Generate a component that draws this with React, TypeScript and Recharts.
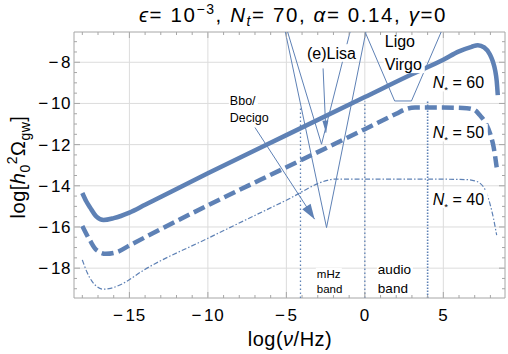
import React from 'react';
import { LineChart, Line, XAxis, YAxis, ReferenceLine, ReferenceDot, ReferenceArea } from 'recharts';

// ---------- data ----------
const xTickValues = [-18, -17, -16, -15, -14, -13, -12, -11, -10, -9, -8, -7, -6, -5, -4, -3, -2, -1, 0, 1, 2, 3, 4, 5, 6, 7, 8];
const xMajorTicks = [-15, -10, -5, 0, 5];
const yTickValues = [-19, -18.5, -18, -17.5, -17, -16.5, -16, -15.5, -15, -14.5, -14, -13.5, -13, -12.5, -12, -11.5, -11, -10.5, -10, -9.5, -9, -8.5, -8, -7.5, -7];
const yMajorTicks = [-18, -16, -14, -12, -10, -8];

const n60LogNu = [-18, -17.75, -17.5, -17.1, -16.65, -16, -15, -14, -10, -5, 0, 3, 5, 6, 6.8, 7.2, 7.6, 7.97, 8.15, 8.3, 8.4, 8.47];
const n60LogOmega = [-14.35, -14.75, -15.06, -15.5, -15.66, -15.57, -15.3, -14.92, -13.39, -11.54, -9.69, -8.58, -7.88, -7.47, -7.25, -7.17, -7.28, -7.62, -7.95, -8.38, -8.9, -9.6];

const n50LogNu = [-18, -17.5, -17.1, -16.5, -15.8, -15, -14, -10, -5, 0, 2, 2.6, 3.2, 5, 6.5, 7.0, 7.3, 7.7, 8.0, 8.2, 8.4];
const n50LogOmega = [-15.95, -16.67, -17.12, -17.3, -17.22, -16.9, -16.5, -14.95, -13.1, -11.25, -10.5, -10.28, -10.2, -10.2, -10.23, -10.32, -10.55, -10.95, -11.5, -12.1, -13.1];

const n40LogNu = [-18, -17.7, -17.4, -17.1, -16.7, -16.2, -15.5, -14.1, -10, -5, -2.4, -2.0, 0, 5, 6.5, 7.0, 7.33, 7.7, 7.96, 8.2, 8.4];
const n40LogOmega = [-17.6, -18.2, -18.62, -18.88, -19.02, -18.98, -18.78, -18.1, -16.55, -14.7, -13.74, -13.68, -13.68, -13.68, -13.7, -13.76, -13.87, -14.25, -14.84, -15.6, -16.4];

const lisaWideLogNu = [-5.1, -2.44, 0.1];
const lisaWideLogOmega = [-6.4, -16.03, -6.4];
const lisaNarrowLogNu = [-4.97, -2.76, -0.9];
const lisaNarrowLogOmega = [-6.4, -11.98, -6.4];
const ligoLogNu = [0.0, 1.9, 2.97, 4.88];
const ligoLogOmega = [-6.5, -9.88, -9.88, -6.5];
const lisaArrowLogNu = [-2.66, -2.48];
const lisaArrowLogOmega = [-8.3, -11.42];
const bboArrowLogNu = [-7.0, -3.2];
const bboArrowLogOmega = [-11.17, -15.62];

const bandEdgeLogNu = [-4.1, 0, 4];
const bandEdgeTop = [-10.2, -9.9, -9.9];
const bandEdgeBottom = -19.45;

// ---------- layout ----------
const WIDTH = 508;
const HEIGHT = 354;
const PLOT_LEFT = 74;
const PLOT_RIGHT = 505;
const PLOT_TOP = 32;
const PLOT_BOTTOM = 298;
const xDomain: [number, number] = [-18.53, 8.93];
const yDomain: [number, number] = [-19.45, -6.53];
const BLUE = '#5e81b5';
const FRAME = '#a6a6a6';
const GRID = '#dcdcdc';
const FONT = '"Liberation Sans", Arial, Helvetica, sans-serif';
const TICK_SIZE = 17;

const pts = (xs: number[], ys: number[]) => xs.map((x, i) => ({ x, y: ys[i] }));

const TickText = ({ v }: { v: number }) =>
  v < 0 ? (
    <>
      <tspan>{'\u2212'}</tspan>
      <tspan dx={2}>{String(-v)}</tspan>
    </>
  ) : (
    <tspan>{String(v)}</tspan>
  );

const XTick = (props: any) => {
  const { x, payload } = props;
  const v = payload.value;
  const major = xMajorTicks.includes(v);
  const len = major ? 6 : 3;
  return (
    <g>
      <line x1={x} x2={x} y1={PLOT_BOTTOM} y2={PLOT_BOTTOM - len} stroke={FRAME} />
      <line x1={x} x2={x} y1={PLOT_TOP} y2={PLOT_TOP + len} stroke={FRAME} />
      {major && (
        <text x={x} y={PLOT_BOTTOM + 23} textAnchor="middle" fontSize={TICK_SIZE} letterSpacing={0.6} fontFamily={FONT} fill="#000">
          <TickText v={v} />
        </text>
      )}
    </g>
  );
};

const YTick = (props: any) => {
  const { y, payload } = props;
  const v = payload.value;
  const major = yMajorTicks.includes(v);
  const len = major ? 6 : 3;
  return (
    <g>
      <line x1={PLOT_LEFT} x2={PLOT_LEFT + len} y1={y} y2={y} stroke={FRAME} />
      <line x1={PLOT_RIGHT} x2={PLOT_RIGHT - len} y1={y} y2={y} stroke={FRAME} />
      {major && (
        <text x={PLOT_LEFT - 3} y={y + 6} textAnchor="end" fontSize={TICK_SIZE} letterSpacing={0.6} fontFamily={FONT} fill="#000">
          <TickText v={v} />
        </text>
      )}
    </g>
  );
};

const arrowDot = (len: number, half: number) => (p: any) => {
  const { cx, cy, index, points } = p;
  if (!points || index !== points.length - 1 || index === 0) return <g key={`d${index}`} />;
  const prev = points[index - 1];
  const dx = cx - prev.x;
  const dy = cy - prev.y;
  const d = Math.sqrt(dx * dx + dy * dy) || 1;
  const ux = dx / d;
  const uy = dy / d;
  const bx = cx - ux * len;
  const by = cy - uy * len;
  const p1 = `${cx},${cy}`;
  const p2 = `${bx - uy * half},${by + ux * half}`;
  const p3 = `${bx + uy * half},${by - ux * half}`;
  return <polygon key={`d${index}`} points={`${p1} ${p2} ${p3}`} fill={BLUE} stroke="none" />;
};

type Ann = { key: string; x: number; y: number; size: number; w: number; text: string; nstar?: string };
const annotations: Ann[] = [
  { key: 'lisa', x: -3.69, y: -7.55, size: 16, w: 48, text: '(e)Lisa' },
  { key: 'ligo', x: 1.27, y: -7.0, size: 16, w: 31, text: 'Ligo' },
  { key: 'virgo', x: 1.27, y: -8.1, size: 16, w: 39, text: 'Virgo' },
  { key: 'bbo', x: -8.6, y: -9.88, size: 12.5, w: 27, text: 'Bbo/' },
  { key: 'decigo', x: -8.6, y: -10.69, size: 12.5, w: 39, text: 'Decigo' },
  { key: 'mhz', x: -3.06, y: -18.29, size: 11.5, w: 24, text: 'mHz' },
  { key: 'band1', x: -3.06, y: -19.02, size: 11.5, w: 26, text: 'band' },
  { key: 'audio', x: 0.83, y: -18.05, size: 13.5, w: 34, text: 'audio' },
  { key: 'band2', x: 0.83, y: -18.97, size: 13.5, w: 31, text: 'band' },
  { key: 'n60', x: 4.33, y: -8.99, size: 16, w: 54, text: '', nstar: '60' },
  { key: 'n50', x: 4.33, y: -11.42, size: 16, w: 54, text: '', nstar: '50' },
  { key: 'n40', x: 4.33, y: -14.65, size: 16, w: 54, text: '', nstar: '40' },
];

const LabelBox = ({ cx, cy, a }: { cx: number; cy: number; a: Ann }) => {
  const h = a.size * 1.1;
  return (
    <g>
      <rect x={cx - 1} y={cy - h / 2} width={a.w + 2} height={h} fill="#ffffff" />
      <text x={cx} y={cy + a.size * 0.36} fontSize={a.size} fontFamily={FONT} fill="#000" style={{ whiteSpace: 'pre' }}>
        {a.nstar ? (
          <>
            <tspan fontStyle="italic">N</tspan>
            <tspan fontSize={a.size * 0.6} dy={a.size * 0.3}>*</tspan>
            <tspan dy={-a.size * 0.3}>{' = ' + a.nstar}</tspan>
          </>
        ) : (
          a.text
        )}
      </text>
    </g>
  );
};

export default function App() {
  return (
    <div style={{ position: 'absolute', left: 0, top: 0, width: WIDTH, height: HEIGHT, background: '#fff' }}>
      <LineChart
        width={WIDTH}
        height={HEIGHT}
        margin={{ top: PLOT_TOP, right: WIDTH - PLOT_RIGHT, bottom: 0, left: 0 }}
      >
        <XAxis
          dataKey="x"
          type="number"
          domain={xDomain}
          allowDataOverflow
          ticks={xTickValues}
          interval={0}
          height={HEIGHT - PLOT_BOTTOM}
          axisLine={false}
          tickLine={false}
          tick={(p: any) => <XTick {...p} />}
        />
        <YAxis
          dataKey="y"
          type="number"
          domain={yDomain}
          allowDataOverflow
          ticks={yTickValues}
          interval={0}
          width={PLOT_LEFT}
          axisLine={false}
          tickLine={false}
          tick={(p: any) => <YTick {...p} />}
        />
        {xMajorTicks.map((v) => (
          <ReferenceLine key={`gx${v}`} x={v} stroke={GRID} strokeWidth={1} />
        ))}
        {yMajorTicks.map((v) => (
          <ReferenceLine key={`gy${v}`} y={v} stroke={GRID} strokeWidth={1} />
        ))}
        <ReferenceArea x1={xDomain[0]} x2={xDomain[1]} y1={yDomain[0]} y2={yDomain[1]} fill="none" fillOpacity={0} stroke={FRAME} strokeWidth={1} />

        {bandEdgeLogNu.map((v, i) => (
          <Line
            key={`band${i}`}
            data={pts([v, v], [bandEdgeBottom, bandEdgeTop[i]])}
            dataKey="y"
            type="linear"
            stroke={BLUE}
            strokeWidth={i === 2 ? 1.6 : 1.3}
            strokeDasharray={i === 2 ? '1.5 1.5' : '1.5 2.5'}
            dot={false}
            isAnimationActive={false}
          />
        ))}

        <Line data={pts(lisaWideLogNu, lisaWideLogOmega)} dataKey="y" type="linear" stroke={BLUE} strokeWidth={1} dot={false} isAnimationActive={false} />
        <Line data={pts(lisaNarrowLogNu, lisaNarrowLogOmega)} dataKey="y" type="linear" stroke={BLUE} strokeWidth={1} dot={false} isAnimationActive={false} />
        <Line data={pts(ligoLogNu, ligoLogOmega)} dataKey="y" type="linear" stroke={BLUE} strokeWidth={1} dot={false} isAnimationActive={false} />
        <Line data={pts(lisaArrowLogNu, lisaArrowLogOmega)} dataKey="y" type="linear" stroke={BLUE} strokeWidth={1} dot={arrowDot(12, 3)} isAnimationActive={false} />
        <Line data={pts(bboArrowLogNu, bboArrowLogOmega)} dataKey="y" type="linear" stroke={BLUE} strokeWidth={1} dot={arrowDot(15, 5)} isAnimationActive={false} />

        <Line data={pts(n40LogNu, n40LogOmega)} dataKey="y" type="monotone" stroke={BLUE} strokeWidth={1.2} strokeDasharray="5 2 1.5 2" dot={false} isAnimationActive={false} />
        <Line data={pts(n50LogNu, n50LogOmega)} dataKey="y" type="monotone" stroke={BLUE} strokeWidth={4.5} strokeDasharray="12 5" dot={false} isAnimationActive={false} />
        <Line data={pts(n60LogNu, n60LogOmega)} dataKey="y" type="monotone" stroke={BLUE} strokeWidth={4.5} dot={false} isAnimationActive={false} />

        {annotations.map((a) => (
          <ReferenceDot
            key={a.key}
            x={a.x}
            y={a.y}
            r={0}
            shape={(p: any) => <LabelBox cx={p.cx} cy={p.cy} a={a} />}
          />
        ))}
      </LineChart>
      <svg width={WIDTH} height={HEIGHT} style={{ position: 'absolute', left: 0, top: 0, pointerEvents: 'none' }}>
        <text x={293} y={22} textAnchor="middle" fontSize={20.5} letterSpacing={1.6} fontFamily={FONT} fill="#000" style={{ whiteSpace: 'pre' }}>
          <tspan fontStyle="italic">{'\u03f5'}</tspan>
          <tspan>{'= 10'}</tspan>
          <tspan fontSize={14} dy={-8}>{'\u22123'}</tspan>
          <tspan dy={8}>{', '}</tspan>
          <tspan fontStyle="italic">N</tspan>
          <tspan fontStyle="italic" fontSize={14} dy={4}>t</tspan>
          <tspan dy={-4}>{'= 70, '}</tspan>
          <tspan fontStyle="italic">{'\u03b1'}</tspan>
          <tspan>{'= 0.14, '}</tspan>
          <tspan fontStyle="italic">{'\u03b3'}</tspan>
          <tspan>{'=0'}</tspan>
        </text>
        <text transform="translate(25,167) rotate(-90)" textAnchor="middle" fontSize={20} letterSpacing={0.5} fontFamily={FONT} fill="#000" style={{ whiteSpace: 'pre' }}>
          <tspan>log[</tspan>
          <tspan fontStyle="italic">h</tspan>
          <tspan fontSize={14} dy={5}>0</tspan>
          <tspan fontSize={14} dy={-13}>2</tspan>
          <tspan dy={8}>{'\u03a9'}</tspan>
          <tspan fontSize={14} dy={5}>gw</tspan>
          <tspan dy={-5}>]</tspan>
        </text>
        <text x={290} y={346} textAnchor="middle" fontSize={20} letterSpacing={0.5} fontFamily={FONT} fill="#000" style={{ whiteSpace: 'pre' }}>
          <tspan>log(</tspan>
          <tspan fontStyle="italic">{'\u03bd'}</tspan>
          <tspan>/Hz)</tspan>
        </text>
      </svg>
    </div>
  );
}
